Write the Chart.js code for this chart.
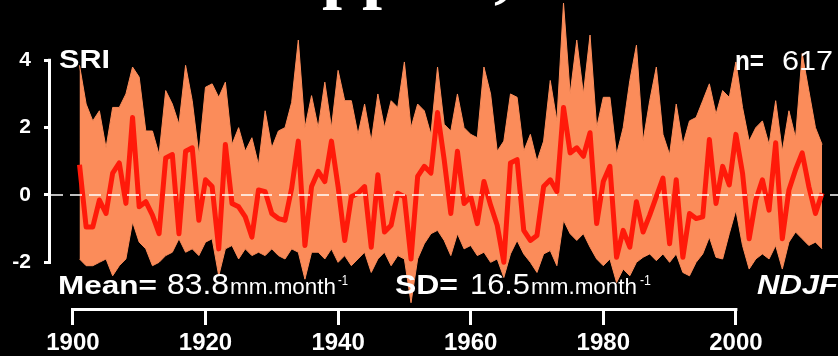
<!DOCTYPE html>
<html lang="en">
  <head>
    <meta charset="UTF-8" />
    <title>SRI NDJF ensemble</title>
    <script src="https://cdn.jsdelivr.net/npm/chart.js"></script>
    <style>
      html,
      body {
        margin: 0;
        padding: 0;
        background: #000;
        overflow: hidden;
      }
      #sriChart {
        display: block;
      }
    </style>
  </head>
  <body>
    <canvas id="sriChart" width="838" height="356"></canvas>

    <script>
      // NDJF seasons, one value per year
      const years = [
        1901, 1902, 1903, 1904, 1905, 1906, 1907, 1908, 1909, 1910,
        1911, 1912, 1913, 1914, 1915, 1916, 1917, 1918, 1919, 1920,
        1921, 1922, 1923, 1924, 1925, 1926, 1927, 1928, 1929, 1930,
        1931, 1932, 1933, 1934, 1935, 1936, 1937, 1938, 1939, 1940,
        1941, 1942, 1943, 1944, 1945, 1946, 1947, 1948, 1949, 1950,
        1951, 1952, 1953, 1954, 1955, 1956, 1957, 1958, 1959, 1960,
        1961, 1962, 1963, 1964, 1965, 1966, 1967, 1968, 1969, 1970,
        1971, 1972, 1973, 1974, 1975, 1976, 1977, 1978, 1979, 1980,
        1981, 1982, 1983, 1984, 1985, 1986, 1987, 1988, 1989, 1990,
        1991, 1992, 1993, 1994, 1995, 1996, 1997, 1998, 1999, 2000,
        2001, 2002, 2003, 2004, 2005, 2006, 2007, 2008, 2009, 2010,
        2011, 2012, 2013,
      ];

      // top of the 617-member ensemble
      const ensembleMax = [
        3.85, 2.7, 2.2, 2.5, 1.4, 2.6, 2.6, 3.0, 3.8, 3.5,
        1.9, 1.9, 1.2, 3.1, 2.7, 2.1, 3.85, 2.8, 1.2, 3.2,
        3.3, 2.9, 3.35, 1.5, 2.0, 1.3, 1.7, 0.9, 2.5, 1.4,
        1.9, 2.0, 2.75, 4.6, 2.0, 2.95, 2.0, 3.35, 2.0, 3.7,
        2.8, 2.8, 1.8, 2.7, 1.6, 3.0, 2.0, 2.8, 2.6, 3.95,
        2.0, 2.7, 2.5, 1.8, 3.8, 2.1, 1.9, 3.0, 2.0, 1.8,
        1.7, 3.8, 3.0, 1.3, 1.6, 3.0, 2.9, 1.3, 1.8, 1.0,
        1.6, 3.4, 2.2, 5.7, 3.0, 4.6, 3.0, 4.75, 2.0, 2.9,
        2.9, 1.2, 2.0, 3.4, 4.45, 1.6, 2.8, 3.8, 1.8, 1.2,
        2.7, 1.5, 2.2, 2.3, 2.8, 3.3, 2.4, 3.1, 2.9, 3.95,
        2.6, 1.6, 2.0, 2.2, 1.5, 2.8, 1.3, 2.5, 1.7, 4.2,
        3.1, 2.0, 1.5,
      ];

      // bottom of the ensemble
      const ensembleMin = [
        -1.9, -2.1, -2.1, -2.0, -1.9, -2.4, -2.1, -1.9, -0.8, -1.4,
        -1.6, -2.1, -2.0, -1.8, -1.7, -1.3, -1.7, -1.6, -1.8, -1.4,
        -1.3, -2.4, -1.6, -1.5, -1.9, -1.6, -1.8, -1.7, -1.8, -1.6,
        -1.8, -1.9, -1.6, -1.7, -2.5, -1.7, -1.7, -1.9, -1.6, -2.0,
        -1.8, -2.1, -1.9, -1.7, -2.3, -1.9, -1.7, -2.1, -1.8, -1.9,
        -3.2, -1.9, -1.45, -1.15, -1.05, -1.35, -1.8, -1.15, -1.6, -1.5,
        -1.8, -1.7, -2.0, -1.9, -2.45, -1.75, -1.35, -1.75, -2.0, -2.3,
        -1.75, -1.65, -2.1, -0.75, -1.15, -1.35, -1.15, -1.55, -1.9, -2.1,
        -1.9, -2.6, -2.2, -2.4, -2.0, -1.85, -1.75, -1.95, -1.75, -2.0,
        -1.75, -2.3, -2.4, -2.0, -1.75, -1.25, -1.85, -1.9, -1.15, -0.45,
        -1.5, -2.2, -1.9, -1.75, -1.9, -1.5, -2.2, -1.4, -1.1, -1.3,
        -1.5, -1.4, -1.6,
      ];

      // ensemble mean SRI
      const meanSri = [
        0.9, -0.95, -0.95, -0.15, -0.55, 0.65, 0.95, -0.25, 2.3, -0.35,
        -0.2, -0.6, -1.15, 1.1, 1.2, -1.15, 1.3, 1.4, -0.75, 0.45,
        0.25, -1.6, 1.5, -0.25, -0.35, -0.65, -1.25, 0.15, 0.1, -0.55,
        -0.7, -0.75, 0.2, 1.6, -1.5, 0.25, 0.7, 0.4, 1.6, 0.25,
        -1.35, -0.05, 0.05, 0.25, -1.55, 0.6, -1.1, -0.9, 0.05, -0.05,
        -1.9, 0.55, 0.85, 0.65, 2.45, 1.05, -0.55, 1.3, -0.25, -0.05,
        -0.85, 0.4, -0.3, -0.9, -2.0, 0.95, 1.05, -1.05, -1.35, -1.2,
        0.25, 0.45, 0.1, 2.6, 1.25, 1.4, 1.15, 1.85, -0.85, 0.4,
        0.85, -1.85, -1.05, -1.55, -0.2, -1.1, -0.6, -0.05, 0.5, -1.45,
        0.45, -1.85, -0.55, -0.7, -0.65, 1.65, -0.25, 0.85, 0.3, 1.8,
        0.65, -1.3, -0.15, 0.45, -0.45, 1.55, -1.3, 0.15, 0.75, 1.25,
        0.25, -0.55, 0.05,
      ];

      const xTicks = [1900, 1920, 1940, 1960, 1980, 2000];
      const yTicks = [-2, 0, 2, 4];

      const ORANGE = '#fb8c5a';
      const RED = '#ff1a0a';
      const FONT = '"Liberation Sans", Arial, sans-serif';

      function toPoints(values) {
        return years.map((yr, i) => ({ x: yr, y: values[i] }));
      }

      // draws text squeezed/stretched to a given width
      function fitText(ctx, text, x, y, font, width) {
        ctx.save();
        ctx.font = font;
        const w = ctx.measureText(text).width;
        ctx.translate(x, y);
        ctx.scale(width / w, 1);
        ctx.fillText(text, 0, 0);
        ctx.restore();
      }

      const decorPlugin = {
        id: 'decor',
        beforeDraw(chart) {
          const ctx = chart.ctx;
          ctx.save();
          ctx.fillStyle = '#000';
          ctx.fillRect(0, 0, chart.width, chart.height);
          ctx.restore();
        },
        afterDatasetsDraw(chart) {
          const { ctx, chartArea } = chart;
          const y0 = chart.scales.y.getPixelForValue(0);
          ctx.save();
          ctx.strokeStyle = 'rgba(255,255,255,0.75)';
          ctx.lineWidth = 2;
          ctx.setLineDash([12, 7]);
          ctx.beginPath();
          ctx.moveTo(chartArea.left, y0);
          ctx.lineTo(chartArea.right, y0);
          ctx.stroke();
          ctx.restore();
        },
        afterDraw(chart) {
          const { ctx, chartArea } = chart;
          const xs = chart.scales.x;
          const ys = chart.scales.y;
          ctx.save();
          ctx.strokeStyle = '#fff';
          ctx.lineWidth = 3;
          ctx.setLineDash([]);
          // y axis runs only between the outer ticks
          const yl = chartArea.left - 1.5;
          ctx.beginPath();
          ctx.moveTo(yl, ys.getPixelForValue(yTicks[yTicks.length - 1]) - 1.5);
          ctx.lineTo(yl, ys.getPixelForValue(yTicks[0]) + 1.5);
          ctx.stroke();
          // x axis likewise
          const xb = chartArea.bottom + 1.5;
          ctx.beginPath();
          ctx.moveTo(xs.getPixelForValue(xTicks[0]) - 1.5, xb);
          ctx.lineTo(xs.getPixelForValue(xTicks[xTicks.length - 1]) + 1.5, xb);
          ctx.stroke();

          ctx.fillStyle = '#fff';
          ctx.textBaseline = 'alphabetic';
          ctx.textAlign = 'left';

          // title text cut off by the top edge
          ctx.font = 'bold 72px "Liberation Serif", "Times New Roman", serif';
          ctx.fillText('support,', 254, -5);

          fitText(ctx, 'SRI', 59, 68, `bold 25px ${FONT}`, 51);
          fitText(ctx, 'n=', 735, 70, `bold 27px ${FONT}`, 29);
          fitText(ctx, '617', 782, 70, `28px ${FONT}`, 51);

          fitText(ctx, 'Mean=', 58, 294, `bold 26px ${FONT}`, 99);
          fitText(ctx, '83.8', 167, 294, `29px ${FONT}`, 62);
          fitText(ctx, 'mm.month', 230, 294, `22px ${FONT}`, 106);
          fitText(ctx, '-1', 338, 285, `15px ${FONT}`, 10);

          fitText(ctx, 'SD=', 395, 294, `bold 28px ${FONT}`, 63);
          fitText(ctx, '16.5', 470, 294, `29px ${FONT}`, 60);
          fitText(ctx, 'mm.month', 531, 294, `22px ${FONT}`, 106);
          fitText(ctx, '-1', 640, 285, `15px ${FONT}`, 11);

          fitText(ctx, 'NDJF', 757, 294, `italic bold 27px ${FONT}`, 81);
          ctx.restore();
        },
      };

      const ctx = document.getElementById('sriChart').getContext('2d');
      new Chart(ctx, {
        type: 'line',
        data: {
          datasets: [
            {
              label: 'Ensemble mean',
              data: toPoints(meanSri),
              borderColor: RED,
              borderWidth: 5,
              borderJoinStyle: 'round',
              pointRadius: 0,
              fill: false,
              tension: 0,
              order: 0,
            },
            {
              label: 'Ensemble max',
              data: toPoints(ensembleMax),
              borderColor: ORANGE,
              backgroundColor: ORANGE,
              borderWidth: 1,
              pointRadius: 0,
              fill: '+1',
              tension: 0,
              order: 1,
            },
            {
              label: 'Ensemble min',
              data: toPoints(ensembleMin),
              borderColor: ORANGE,
              borderWidth: 1,
              pointRadius: 0,
              fill: false,
              tension: 0,
              order: 2,
            },
          ],
        },
        options: {
          responsive: false,
          animation: false,
          devicePixelRatio: 1,
          layout: { padding: 0 },
          plugins: {
            legend: { display: false },
            tooltip: { enabled: false },
            title: { display: false },
          },
          scales: {
            x: {
              type: 'linear',
              min: 1896.7,
              max: 2015.4,
              border: { display: false },
              grid: {
                drawOnChartArea: false,
                drawTicks: true,
                tickLength: 17,
                color: '#fff',
                lineWidth: 3,
              },
              ticks: {
                stepSize: 20,
                includeBounds: false,
                autoSkip: false,
                maxRotation: 0,
                padding: 4,
                color: '#fff',
                font: { family: FONT, size: 24, weight: 'bold' },
                callback: (v) => String(v),
              },
              afterBuildTicks: (s) => {
                s.ticks = xTicks.map((v) => ({ value: v }));
              },
              afterFit: (s) => {
                s.height = 48;
                s.paddingLeft = 0;
                s.paddingRight = 0;
              },
            },
            y: {
              min: -3.356,
              max: 5.79,
              border: { display: false },
              grid: {
                drawOnChartArea: false,
                drawTicks: true,
                tickLength: 7,
                color: '#fff',
                lineWidth: 3,
              },
              ticks: {
                stepSize: 2,
                includeBounds: false,
                padding: 13,
                color: '#fff',
                font: { family: FONT, size: 21, weight: 'bold' },
                callback: (v) => String(v),
              },
              afterBuildTicks: (s) => {
                s.ticks = yTicks.map((v) => ({ value: v }));
              },
              afterFit: (s) => {
                s.width = 51;
                s.paddingTop = 0;
                s.paddingBottom = 0;
              },
            },
          },
        },
        plugins: [decorPlugin],
      });
    </script>
  </body>
</html>
